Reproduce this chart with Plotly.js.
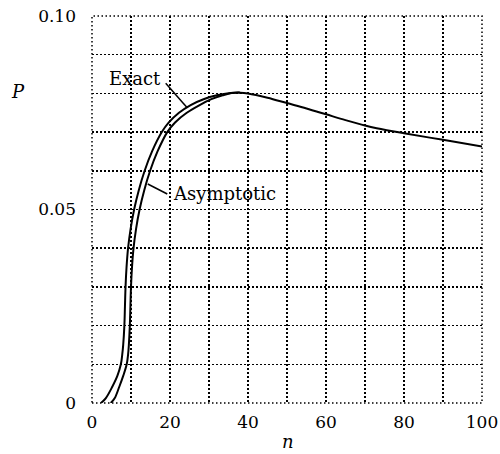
<!DOCTYPE html>
<html>
<head>
<meta charset="utf-8">
<script src="https://cdn.plot.ly/plotly-3.0.1.min.js"></script>
<style>html,body{margin:0;padding:0;background:#fff;}#chart{width:500px;height:454px;}</style>
</head>
<body>
<div id="chart"></div>
<script>
// Exact curve (outer)
const exactN = [2.3, 3.5, 5.2, 6.5, 7.4, 7.75, 8.0, 8.3, 8.45, 8.6, 8.85, 9.25, 9.9, 10.8, 12.0, 13.5, 15.4, 17.9, 19.7, 22.3, 25.3, 28.6, 32.0, 35.5, 38, 40, 45, 50, 55, 60, 65, 70, 73, 80, 90, 100];
const exactP = [0, 0.0012, 0.0042, 0.007, 0.010, 0.0125, 0.015, 0.020, 0.025, 0.030, 0.035, 0.040, 0.045, 0.050, 0.055, 0.060, 0.065, 0.070, 0.0725, 0.0750, 0.0770, 0.0785, 0.0795, 0.0801, 0.0802, 0.0800, 0.0789, 0.0775, 0.0761, 0.0746, 0.0731, 0.0717, 0.0710, 0.0697, 0.0680, 0.0663];
// Asymptotic curve (inner)
const asymN = [4.8, 5.8, 7.0, 8.0, 8.9, 9.25, 9.45, 9.7, 9.85, 10.0, 10.25, 10.65, 11.3, 12.2, 13.4, 14.9, 16.8, 19.3, 21.3, 24.3, 27.6, 30.6, 33.5, 35.8, 38];
const asymP = [0, 0.0012, 0.0042, 0.007, 0.010, 0.0125, 0.015, 0.020, 0.025, 0.030, 0.035, 0.040, 0.045, 0.050, 0.055, 0.060, 0.065, 0.070, 0.0725, 0.0750, 0.0770, 0.0785, 0.0795, 0.0801, 0.0802];
// Ticks
const xTickVals = [0, 10, 20, 30, 40, 50, 60, 70, 80, 90, 100];
const xTickText = ['0', '', '20', '', '40', '', '60', '', '80', '', '100'];
const yTickVals = [0, 0.01, 0.02, 0.03, 0.04, 0.05, 0.06, 0.07, 0.08, 0.09, 0.10];
const yTickText = ['0', '', '', '', '', '0.05', '', '', '', '', '0.10'];

const serif = 'DejaVu Serif';
const lineStyle = {color: '#000', width: 2, shape: 'spline', smoothing: 1.0};
const dotDash = '1.5px,2.5px';

const traces = [
  {x: exactN, y: exactP, mode: 'lines', line: lineStyle, name: 'Exact', hoverinfo: 'skip'},
  {x: asymN, y: asymP, mode: 'lines', line: lineStyle, name: 'Asymptotic', hoverinfo: 'skip'}
];

const axisBase = {
  showgrid: true, gridcolor: '#000', gridwidth: 1.5, griddash: dotDash,
  zeroline: false, showline: false, ticks: '',
  tickmode: 'array', tickfont: {family: serif, size: 17, color: '#000'},
  fixedrange: true
};

const layout = {
  width: 500, height: 454,
  margin: {l: 92, r: 18, t: 16, b: 51},
  paper_bgcolor: '#fff', plot_bgcolor: '#fff',
  showlegend: false,
  font: {family: serif, color: '#000'},
  xaxis: Object.assign({}, axisBase, {range: [0, 100], tickvals: xTickVals, ticktext: xTickText, ticklabelstandoff: 7}),
  yaxis: Object.assign({}, axisBase, {range: [0, 0.10], tickvals: yTickVals, ticktext: yTickText, ticklabelstandoff: 15}),
  shapes: [
    {type: 'rect', xref: 'paper', yref: 'paper', x0: 0, y0: 0, x1: 1, y1: 1, layer: 'below', line: {color: '#000', width: 1.5, dash: dotDash}},
    {type: 'line', xref: 'x', yref: 'y', x0: 18.9, y0: 0.0826, x1: 24.3, y1: 0.0764, line: {color: '#000', width: 1.5}},
    {type: 'line', xref: 'x', yref: 'y', x0: 14.3, y0: 0.0566, x1: 19.3, y1: 0.0540, line: {color: '#000', width: 1.5}}
  ],
  annotations: [
    {text: 'Exact', xref: 'x', yref: 'y', x: 11.0, y: 0.0838, showarrow: false, font: {family: serif, size: 18, color: '#000'}},
    {text: 'Asymptotic', xref: 'x', yref: 'y', x: 20.3, y: 0.0542, xanchor: 'left', showarrow: false, font: {family: serif, size: 18, color: '#000'}},
    {text: '<i>P</i>', xref: 'paper', yref: 'paper', x: -0.19, y: 0.806, xanchor: 'center', yanchor: 'middle', showarrow: false, font: {family: serif, size: 18, color: '#000'}},
    {text: '<i>n</i>', xref: 'paper', yref: 'paper', x: 0.503, y: -0.1, xanchor: 'center', yanchor: 'middle', showarrow: false, font: {family: serif, size: 18, color: '#000'}}
  ]
};

Plotly.newPlot('chart', traces, layout, {staticPlot: true, displayModeBar: false});
</script>
</body>
</html>
